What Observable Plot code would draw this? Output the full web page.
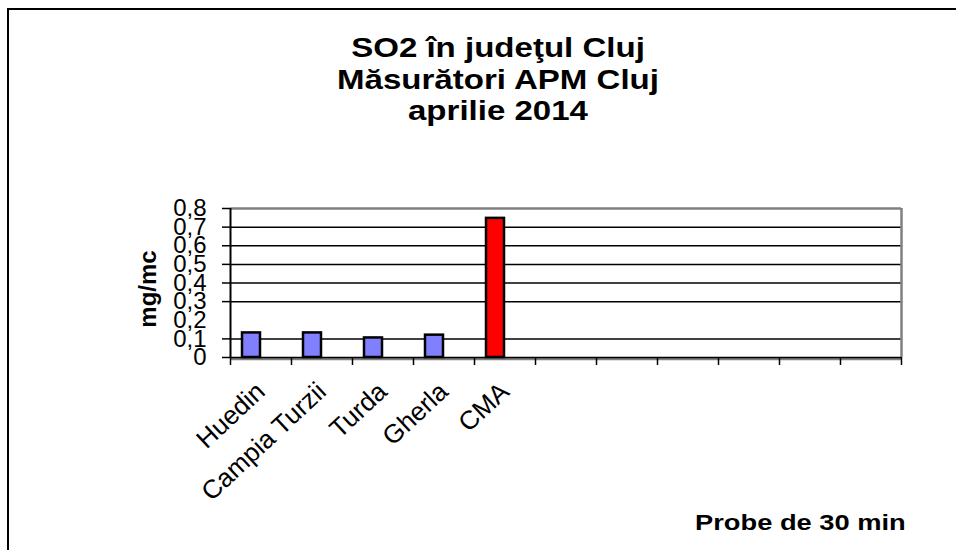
<!DOCTYPE html>
<html>
<head>
<meta charset="utf-8">
<script src="https://cdn.jsdelivr.net/npm/d3@7"></script>
<script src="https://cdn.jsdelivr.net/npm/@observablehq/plot@0.6"></script>
<style>
  html, body { margin: 0; padding: 0; background: #fff; }
  #wrap { position: relative; width: 956px; height: 550px; overflow: hidden; background: #fff; font-family: "Liberation Sans", Arial, sans-serif; }
  #frame { position: absolute; left: 7px; top: 8px; width: 1000px; height: 600px; border-left: 2px solid #000; border-top: 2px solid #000; }
  #title { position: absolute; left: 0; top: 32px; width: 996px; text-align: center; font-weight: bold; font-size: 28px; line-height: 31.5px; color: #000; transform: scaleX(1.18); transform-origin: 498px 0; }
  #chart { position: absolute; left: 0; top: 150px; }
  #footer { position: absolute; left: 695px; top: 510px; font-weight: bold; font-size: 22px; color: #000; white-space: nowrap; transform: scaleX(1.24); transform-origin: 0 0; }
</style>
</head>
<body>
<div id="wrap">
  <div id="frame"></div>
  <div id="title">SO2 în judeţul Cluj<br>Măsurători APM Cluj<br>aprilie 2014</div>
  <div id="chart"></div>
  <div id="footer">Probe de 30 min</div>
</div>
<script>
// Data
const categories = ["Huedin", "Campia Turzii", "Turda", "Gherla", "CMA"];
const values = [0.132, 0.132, 0.105, 0.12, 0.747];
const barColors = ["#8080FF", "#8080FF", "#8080FF", "#8080FF", "#FF0000"];
const slotCount = 11;                       // category slots on the x axis
const yTickValues = [0, 0.1, 0.2, 0.3, 0.4, 0.5, 0.6, 0.7, 0.8];
const yTickMarks = [0, 0.1, 0.3, 0.4, 0.5, 0.6, 0.7, 0.8];
const gridValues = [0.1, 0.3, 0.4, 0.5, 0.6, 0.7];
const yLabel = "mg/mc";

const data = categories.map((c, i) => ({ i, category: c, value: values[i], color: barColors[i] }));
const fmt = d => d === 0 ? "0" : d3.format(".1f")(d).replace(".", ",");

const chart = Plot.plot({
  width: 956,
  height: 380,
  marginTop: 58,
  marginLeft: 230,
  marginRight: 55,
  marginBottom: 173,
  style: { fontFamily: "Liberation Sans, Arial, sans-serif", background: "transparent", overflow: "visible" },
  x: { type: "linear", domain: [0, slotCount], axis: null },
  y: { domain: [0, 0.8], axis: null },
  marks: [
    // grid lines
    Plot.ruleY(gridValues, { stroke: "#000", strokeWidth: 1.5 }),
    // plot frame: top, right (gray), bottom (black + gray shadow)
    Plot.ruleY([0.8], { stroke: "#808080", strokeWidth: 2.5 }),
    Plot.ruleX([slotCount], { stroke: "#808080", strokeWidth: 2.5 }),
    Plot.ruleY([0], { stroke: "#808080", strokeWidth: 2.5, dy: 1.5 }),
    Plot.ruleY([0], { stroke: "#000", strokeWidth: 1.5 }),
    // bars
    Plot.rectY(data, {
      x1: "i", x2: d => d.i + 1, y: "value",
      insetLeft: 12, insetRight: 31,
      fill: "color", stroke: "#000", strokeWidth: 2.5
    }),
    // left axis
    Plot.ruleX([0], { stroke: "#000", strokeWidth: 2 }),
    Plot.axisY({ ticks: yTickMarks, tickFormat: () => "", tickSize: 8, stroke: "#000", strokeWidth: 1.5, label: null }),
    Plot.axisY({ ticks: yTickValues, tickFormat: fmt, tickSize: 0, tickPadding: 24, fontSize: 24, fill: "#000", label: null }),
    // bottom ticks at slot boundaries
    Plot.axisX({ ticks: d3.range(slotCount + 1), tickFormat: () => "", tickSize: 8, stroke: "#000", strokeWidth: 1.5, label: null }),
    // category labels
    Plot.text(data, {
      x: d => d.i + 0.5, y: () => 0, text: "category",
      rotate: -43, textAnchor: "end", lineAnchor: "middle",
      dx: 0, dy: 30, fontSize: 26, fill: "#000"
    }),
    // y label
    Plot.text([yLabel], {
      frameAnchor: "left", textAnchor: "middle", dx: -82, dy: 6, rotate: -90,
      fontSize: 24, fontWeight: "bold", fill: "#000"
    })
  ]
});
document.getElementById("chart").append(chart);
</script>
</body>
</html>
